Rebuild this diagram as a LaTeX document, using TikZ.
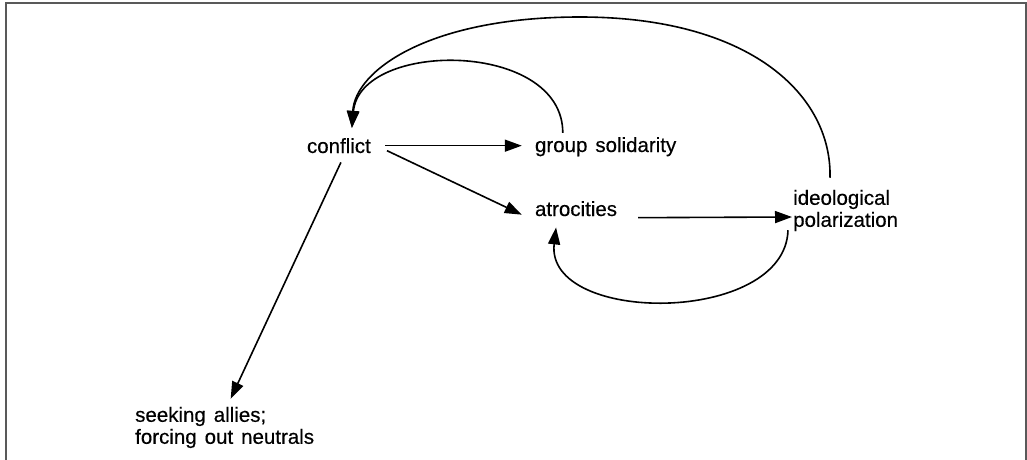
\documentclass[tikz,border=0pt]{standalone}
\usepackage{fontspec}
\setmainfont{Liberation Sans}[WordSpace=1.4, FakeBold=0.4]
\usetikzlibrary{arrows.meta,calc}
\tikzset{
  lbl/.style={inner sep=0pt, font=\fontsize{20.5}{22}\selectfont},
  conn/.style={line width=1.6pt, -{Triangle[length=17pt,width=12pt]}},
  frame/.style={draw=black!65, line width=2pt}
}
\begin{document}
\begin{tikzpicture}[x=1pt,y=-1pt]
\useasboundingbox (0,0) rectangle (1027,460);
\draw[frame] (5.5,461) -- (5.5,3.5) -- (1025.5,3.5) -- (1025.5,461);

\node[lbl, anchor=text] (conflict) at (307,153) {conflict};
\node[lbl, anchor=text] (group) at (535,152) {group solidarity};
\node[lbl, anchor=text] (atro) at (535,216) {atrocities};
\node[lbl, anchor=west, align=left] (ideol) at (793,210.5) {ideological\\polarization};
\node[lbl, anchor=west, align=left] (seek) at (135,427.5) {seeking allies;\\forcing out neutrals};

\draw[conn] ($(conflict.east)+(14,0)$) -- ($(group.west |- conflict.east)+(-13,0)$);
\draw[conn] ($(conflict.east)+(16,5)$) -- ($(atro.west)+(-13,6)$);
\draw[conn] ($(atro.east)+(21,9)$) -- ($(ideol.west)+(-1,6.5)$);
\draw[conn] ($(conflict.south)+(2,9)$) -- ($(seek.north)+(6,-8)$);

\draw[conn] ($(group.north west)+(28,-4)$) .. controls +(0,-93) and (360,40) .. ($(conflict.north)+(13,-10)$);
\draw[conn] ($(ideol.north west)+(37,-12)$) .. controls +(2,-83) and (750,17) .. (580,17)
   .. controls (430,17) and (355,70) .. ($(conflict.north)+(13,-10)$);
\draw[conn] ($(ideol.south west)+(-5,-1)$) .. controls +(-3,95) and (545,325) .. ($(atro.south)+(-20,11)$);
\end{tikzpicture}
\end{document}
